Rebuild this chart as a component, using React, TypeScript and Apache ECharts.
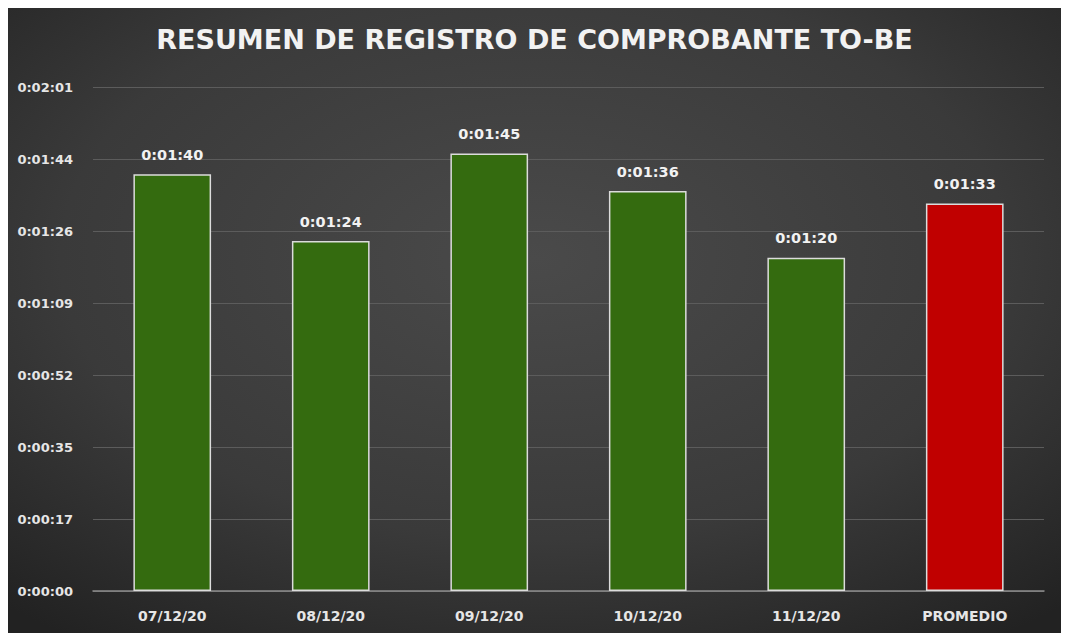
import React, { useEffect, useRef } from "react";
import * as echarts from "echarts";

const categories = ["07/12/20", "08/12/20", "09/12/20", "10/12/20", "11/12/20", "PROMEDIO"];
const seconds = [100, 84, 105, 96, 80, 93];
const barColors = ["#346b0f", "#346b0f", "#346b0f", "#346b0f", "#346b0f", "#c00000"];
const titleText = "RESUMEN DE REGISTRO DE COMPROBANTE TO-BE";
const axisMax = 120.96;
const axisInterval = 17.28;

function fmt(v: number): string {
  const s = Math.round(v);
  const h = Math.floor(s / 3600);
  const m = Math.floor((s % 3600) / 60);
  const sec = s % 60;
  return `${h}:${String(m).padStart(2, "0")}:${String(sec).padStart(2, "0")}`;
}

const FONT = "DejaVu Sans";

export default function App() {
  const ref = useRef<HTMLDivElement>(null);
  useEffect(() => {
    if (!ref.current) return;
    const chart = echarts.init(ref.current, undefined, { renderer: "svg" });
    chart.setOption({
      animation: false,
      backgroundColor: {
        type: "radial",
        x: 0.5,
        y: 0.4,
        r: 0.75,
        colorStops: [
          { offset: 0, color: "#4a4a4a" },
          { offset: 0.6, color: "#3a3a3a" },
          { offset: 1, color: "#222222" },
        ],
      },
      title: {
        text: titleText,
        left: "center",
        top: 13,
        textStyle: {
          color: "#f2f2f2",
          fontFamily: FONT,
          fontWeight: "bold",
          fontSize: 27,
        },
      },
      grid: { left: 85, right: 17, top: 79, bottom: 42, containLabel: false },
      xAxis: {
        type: "category",
        data: categories,
        axisLine: { show: true, lineStyle: { color: "#8c8c8c", width: 1.5 } },
        axisTick: { show: false },
        axisLabel: {
          color: "#e6e6e6",
          fontFamily: FONT,
          fontWeight: "bold",
          fontSize: 14,
          margin: 18,
        },
      },
      yAxis: {
        type: "value",
        min: 0,
        max: axisMax,
        interval: axisInterval,
        axisLine: { show: false },
        axisTick: { show: false },
        splitLine: { lineStyle: { color: "#5c5c5c", width: 1 } },
        axisLabel: {
          color: "#e6e6e6",
          fontFamily: FONT,
          fontWeight: "bold",
          fontSize: 13,
          margin: 20,
          formatter: (v: number) => fmt(v),
        },
      },
      series: [
        {
          type: "bar",
          barWidth: "49%",
          data: seconds.map((v, i) => ({
            value: v,
            itemStyle: { color: barColors[i], borderColor: "#dcdcdc", borderWidth: 1.5 },
          })),
          label: {
            show: true,
            position: "top",
            distance: 12,
            color: "#f2f2f2",
            fontFamily: FONT,
            fontWeight: "bold",
            fontSize: 14.5,
            formatter: (p: any) => fmt(p.value),
          },
        },
      ],
    });
    return () => chart.dispose();
  }, []);
  return <div ref={ref} style={{ width: 1053, height: 625 }} />;
}
